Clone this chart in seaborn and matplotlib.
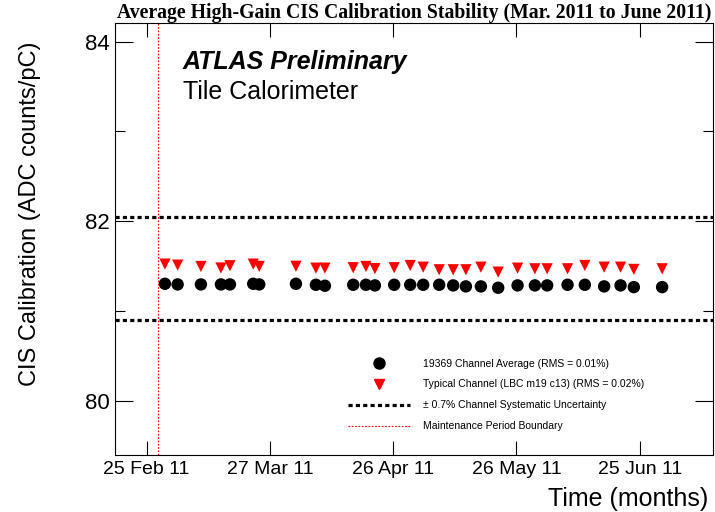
import numpy as np
import pandas as pd
import matplotlib
matplotlib.use("Agg")
import matplotlib.pyplot as plt
import matplotlib.dates as mdates
from matplotlib.ticker import MultipleLocator, FixedLocator
from matplotlib.lines import Line2D
import seaborn as sns

# ---------------- data ----------------
start_date = "2011-02-25"
day_offsets = [4.45, 7.54, 13.21, 18.08, 20.27, 25.94, 27.40, 36.33, 41.19, 43.38,
               50.27, 53.36, 55.55, 60.24, 64.14, 67.30, 71.19, 74.60, 77.69, 81.34,
               85.55, 90.27, 94.48, 97.47, 102.43, 106.64, 111.34, 115.33, 118.56, 125.45]
channel_average = [81.305, 81.298, 81.298, 81.298, 81.298, 81.305, 81.298, 81.305, 81.294, 81.283,
                   81.294, 81.294, 81.287, 81.294, 81.294, 81.294, 81.294, 81.287, 81.276, 81.276,
                   81.261, 81.287, 81.287, 81.287, 81.294, 81.294, 81.276, 81.287, 81.268, 81.268]
typical_channel = [81.524, 81.513, 81.498, 81.481, 81.506, 81.524, 81.498, 81.500, 81.479, 81.479,
                   81.484, 81.498, 81.474, 81.484, 81.509, 81.490, 81.461, 81.461, 81.461, 81.490,
                   81.435, 81.479, 81.472, 81.472, 81.472, 81.509, 81.490, 81.490, 81.465, 81.472]
syst_upper = 82.047
syst_lower = 80.905
maintenance_offset = 2.75
tick_dates = ["2011-02-25", "2011-03-27", "2011-04-26", "2011-05-26", "2011-06-25"]
x_range_offsets = [-7.7, 137.9]
y_range = [79.40, 84.21]
y_major_ticks = [80, 82, 84]

legend_labels = ["19369 Channel Average (RMS = 0.01%)",
                 "Typical Channel (LBC m19 c13) (RMS = 0.02%)",
                 "\u00b1 0.7% Channel Systematic Uncertainty",
                 "Maintenance Period Boundary"]

# ---------------- frame ----------------
base = pd.Timestamp(start_date)
dates = base + pd.to_timedelta(day_offsets, unit="D")
df = pd.DataFrame({"date": dates, "avg": channel_average, "typ": typical_channel})

sns.set_style("white")
plt.rcParams["font.family"] = ["Liberation Sans", "DejaVu Sans"]
plt.rcParams.update({"text.color": "black", "axes.labelcolor": "black",
                     "xtick.color": "black", "ytick.color": "black"})

fig = plt.figure(figsize=(7.15, 5.12), dpi=100)
ax = fig.add_axes([115 / 715, 1 - 455 / 512, (713.3 - 115) / 715, (455 - 22.7) / 512])

sns.scatterplot(data=df, x="date", y="avg", marker="o", color="black", s=80,
                edgecolor="none", ax=ax, zorder=3)
sns.scatterplot(data=df, x="date", y="typ", marker="v", color="#ff0000", s=65,
                edgecolor="none", ax=ax, zorder=3)

dot_style = (0, (1.3, 1.0))
ax.axhline(syst_upper, color="black", lw=2.3, linestyle=dot_style, zorder=2)
ax.axhline(syst_lower, color="black", lw=2.3, linestyle=dot_style, zorder=2)
ax.axvline(base + pd.Timedelta(days=maintenance_offset), color="#ff0000", lw=0.8,
           linestyle=(0, (1.5, 1.5)), zorder=2)

ax.set_xlim(base + pd.Timedelta(days=x_range_offsets[0]),
            base + pd.Timedelta(days=x_range_offsets[1]))
ax.set_ylim(*y_range)

ax.xaxis.set_major_locator(FixedLocator(mdates.date2num(pd.to_datetime(tick_dates))))
ax.xaxis.set_major_formatter(mdates.DateFormatter("%d %b %y"))
ax.yaxis.set_major_locator(FixedLocator(y_major_ticks))
ax.yaxis.set_minor_locator(MultipleLocator(1))

ax.tick_params(axis="both", which="both", direction="in", top=True, right=True,
               bottom=True, left=True, color="black", width=0.8)
ax.tick_params(axis="x", which="major", length=10, labelsize=14, pad=4)
ax.tick_params(axis="y", which="major", length=13, labelsize=16, pad=4)
ax.tick_params(axis="y", which="minor", length=7)
for sp in ax.spines.values():
    sp.set_color("black")
    sp.set_linewidth(0.8)

ax.set_ylabel("CIS Calibration (ADC counts/pC)", fontsize=17)
ax.yaxis.set_label_coords(-0.123, 0.5586)
ax.set_xlabel("Time (months)", fontsize=18, ha="right")
ax.xaxis.set_label_coords(0.991, -0.074)

ax.set_title("Average High-Gain CIS Calibration Stability (Mar. 2011 to June 2011)",
             fontfamily="Liberation Serif", fontweight="bold", fontsize=14.2, pad=2)

ax.text(0.113, 0.908, "ATLAS Preliminary", transform=ax.transAxes, fontsize=18,
        fontweight="bold", fontstyle="italic", va="center", ha="left")
ax.text(0.113, 0.839, "Tile Calorimeter", transform=ax.transAxes, fontsize=18,
        va="center", ha="left")

handles = [
    Line2D([], [], marker="o", color="black", linestyle="None", markersize=8),
    Line2D([], [], marker="v", color="#ff0000", linestyle="None", markersize=7.5),
    Line2D([], [], color="black", lw=2.3, linestyle=dot_style),
    Line2D([], [], color="#ff0000", lw=0.8, linestyle=(0, (1.5, 1.5))),
]
ax.legend(handles, legend_labels, loc="center left", bbox_to_anchor=(0.389, 0.139),
          frameon=False, fontsize=7.5, handlelength=6, handletextpad=1.2,
          labelspacing=1.05, borderpad=0, borderaxespad=0)

fig.savefig("out.png", dpi=100)
